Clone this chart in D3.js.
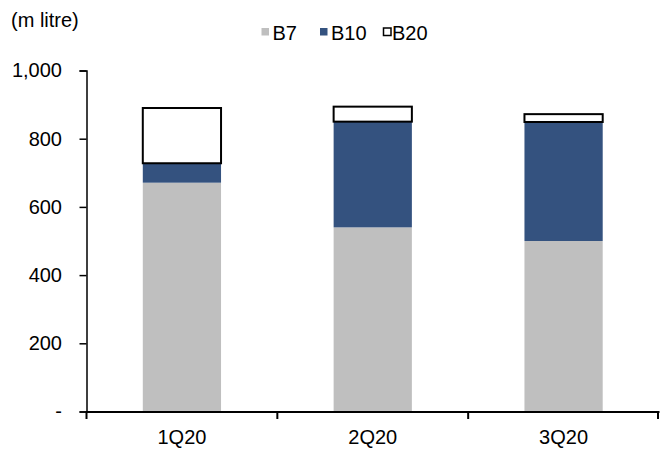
<!DOCTYPE html>
<html>
<head>
<meta charset="utf-8">
<script src="https://cdn.jsdelivr.net/npm/d3@7/dist/d3.min.js"></script>
<style>
  html, body { margin: 0; padding: 0; background: #fff; }
  svg { display: block; font-family: "Liberation Sans", Arial, sans-serif; }
</style>
</head>
<body>
<script>
// Quarterly biodiesel sales by blend (million litres)
const quarters = ["1Q20", "2Q20", "3Q20"];
const seriesNames = ["B7", "B10", "B20"];
const b7Values = [671, 540, 500];
const b10Values = [57, 310, 349];
const b20Values = [162, 44, 23];
const yTicks = [0, 200, 400, 600, 800, 1000];
const unitLabel = "(m litre)";

const W = 661, H = 450;
const margin = { left: 86.5, right: 2, top: 70.5, bottom: 38.5 };
const fontSize = 20;

const colors = { B7: "#bfbfbf", B10: "#34527f", B20: "#ffffff" };

const rows = quarters.map((q, i) => ({ q, B7: b7Values[i], B10: b10Values[i], B20: b20Values[i] }));
const stacked = d3.stack().keys(seriesNames)(rows);

const svg = d3.select("body").append("svg").attr("width", W).attr("height", H);

const y = d3.scaleLinear().domain([0, 1000]).range([H - margin.bottom, margin.top]);
const xCat = d3.scaleBand().domain(quarters).range([margin.left, W - margin.right]).padding(0);
const xBar = d3.scaleBand().domain(quarters).range([margin.left, W - margin.right])
  .paddingInner(0.59).paddingOuter(0.295);

// stacked bars
const layers = svg.append("g").selectAll("g").data(stacked).join("g")
  .attr("fill", d => colors[d.key]);

layers.selectAll("rect").data(d => d.map(v => ({ key: d.key, v }))).join("rect")
  .attr("x", d => xBar(d.v.data.q))
  .attr("width", xBar.bandwidth())
  .attr("y", d => y(d.v[1]))
  .attr("height", d => y(d.v[0]) - y(d.v[1]))
  .attr("stroke", d => d.key === "B20" ? "#000" : "none")
  .attr("stroke-width", d => d.key === "B20" ? 2 : 0);

// y axis
const yAxis = d3.axisLeft(y).tickValues(yTicks).tickSize(7).tickPadding(17.5)
  .tickFormat(v => v === 0 ? "-" : d3.format(",")(v));
const gy = svg.append("g").attr("transform", `translate(${margin.left},0)`).call(yAxis);
gy.select(".domain").attr("stroke", "#000").attr("stroke-width", 1.5);
gy.selectAll(".tick line").attr("stroke", "#000").attr("stroke-width", 1.5);
gy.selectAll(".tick text").attr("font-size", fontSize).attr("fill", "#000")
  .attr("font-family", "'Liberation Sans', Arial, sans-serif");

// x axis: labels centred under bars, ticks at category boundaries
const y0 = y(0);
const xAxis = d3.axisBottom(xCat).tickSize(0).tickPadding(18);
const gx = svg.append("g").attr("transform", `translate(0,${y0})`).call(xAxis);
gx.select(".domain").attr("stroke", "#000").attr("stroke-width", 2);
gx.selectAll(".tick text").attr("font-size", fontSize).attr("fill", "#000")
  .attr("font-family", "'Liberation Sans', Arial, sans-serif");
const bounds = quarters.map(q => xCat(q)).concat([xCat.range()[1] - 1]);
gx.selectAll("line.bound").data(bounds).join("line").attr("class", "bound")
  .attr("x1", d => d).attr("x2", d => d).attr("y1", 0).attr("y2", 7.5)
  .attr("stroke", "#000").attr("stroke-width", 2);

// unit label
svg.append("text").attr("x", 11).attr("y", 27).attr("font-size", fontSize).attr("fill", "#000")
  .text(unitLabel);

// legend
const legendItems = [
  { key: "B7", sx: 261.5, tx: 272.5 },
  { key: "B10", sx: 320, tx: 331 },
  { key: "B20", sx: 383.5, tx: 392 }
];
const lg = svg.append("g");
legendItems.forEach(it => {
  lg.append("rect").attr("x", it.sx).attr("y", 28).attr("width", 7.5).attr("height", 7.5)
    .attr("fill", colors[it.key])
    .attr("stroke", it.key === "B20" ? "#000" : "none").attr("stroke-width", 1.5);
  lg.append("text").attr("x", it.tx).attr("y", 39.5).attr("font-size", fontSize).attr("fill", "#000")
    .text(it.key);
});
</script>
</body>
</html>
